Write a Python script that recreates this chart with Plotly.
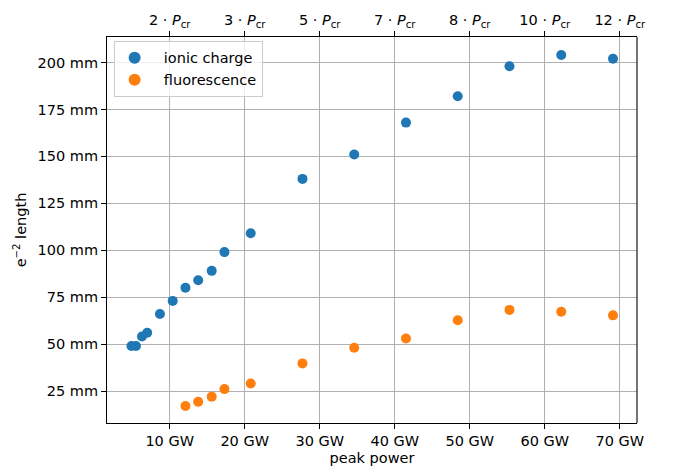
import plotly.graph_objects as go

# Data
ionic_power_gw = [4.9, 5.5, 6.3, 7.0, 8.7, 10.4, 12.1, 13.8, 15.6, 17.3, 20.8, 27.7, 34.6, 41.5, 48.4, 55.3, 62.2, 69.1]
ionic_length_mm = [49, 49, 54, 56, 66, 73, 80, 84, 89, 99, 109, 138, 151, 168, 182, 198, 204, 202]
fluor_power_gw = [12.1, 13.8, 15.6, 17.3, 20.8, 27.7, 34.6, 41.5, 48.4, 55.3, 62.2, 69.1]
fluor_length_mm = [17, 19.3, 22, 26, 29, 39.7, 48, 53, 62.7, 68.2, 67.2, 65.3]

bottom_ticks = [10, 20, 30, 40, 50, 60, 70]
bottom_labels = ["10 GW", "20 GW", "30 GW", "40 GW", "50 GW", "60 GW", "70 GW"]
top_multiples = [2, 3, 5, 7, 8, 10, 12]
top_labels = [f"{m} · <i>P</i><sub>cr</sub>" for m in top_multiples]
y_ticks = [25, 50, 75, 100, 125, 150, 175, 200]
y_labels = [f"{v} mm" for v in y_ticks]

FONT = "DejaVu Sans"
FS = 14.5
x_range = [1.64, 72.3]
y_range = [7.95, 213.6]

fig = go.Figure()
fig.add_trace(go.Scatter(x=ionic_power_gw, y=ionic_length_mm, mode="markers",
                         name="\u00a0\u00a0ionic charge",
                         marker=dict(color="#1f77b4", size=10, line=dict(width=0))))
fig.add_trace(go.Scatter(x=fluor_power_gw, y=fluor_length_mm, mode="markers",
                         name="\u00a0\u00a0fluorescence",
                         marker=dict(color="#ff7f0e", size=10, line=dict(width=0))))
# dummy trace to attach the top axis
fig.add_trace(go.Scatter(x=[None], y=[None], xaxis="x2", yaxis="y",
                         showlegend=False, hoverinfo="skip"))

axis_common = dict(showline=True, linecolor="black", linewidth=1.1, mirror=False,
                   ticks="outside", ticklen=5, tickwidth=1.1, tickcolor="black",
                   tickfont=dict(family=FONT, size=FS, color="black"),
                   zeroline=False)

fig.update_layout(
    width=673, height=476,
    margin=dict(l=106.7, r=36.3, t=33.3, b=48.3),
    paper_bgcolor="white", plot_bgcolor="white",
    font=dict(family=FONT, size=FS, color="black"),
    xaxis=dict(range=x_range, tickvals=bottom_ticks, ticktext=bottom_labels,
               showgrid=True, gridcolor="#b0b0b0", gridwidth=1.1,
               title=dict(text="peak power", font=dict(family=FONT, size=FS), standoff=4),
               **axis_common),
    xaxis2=dict(range=x_range, tickvals=bottom_ticks, ticktext=top_labels,
                overlaying="x", side="top", anchor="y", showgrid=False,
                **axis_common),
    yaxis=dict(range=y_range, tickvals=y_ticks, ticktext=y_labels,
               showgrid=True, gridcolor="#b0b0b0", gridwidth=1.1,
               title=dict(text="e<sup>−2</sup> length", font=dict(family=FONT, size=FS), standoff=7),
               **axis_common),
    legend=dict(x=0.0125, y=0.99, xanchor="left", yanchor="top",
                bgcolor="rgba(255,255,255,0.8)", bordercolor="#cccccc", borderwidth=1,
                font=dict(family=FONT, size=FS, color="black"),
                itemsizing="constant", tracegroupgap=2),
    showlegend=True,
)

# right frame line
fig.add_shape(type="line", xref="paper", yref="paper", x0=1, x1=1, y0=0, y1=1,
              line=dict(color="black", width=1.1))

fig.write_html("out.html", config={"displayModeBar": False},
               post_script="document.body.style.margin='0';document.body.style.padding='0';")
